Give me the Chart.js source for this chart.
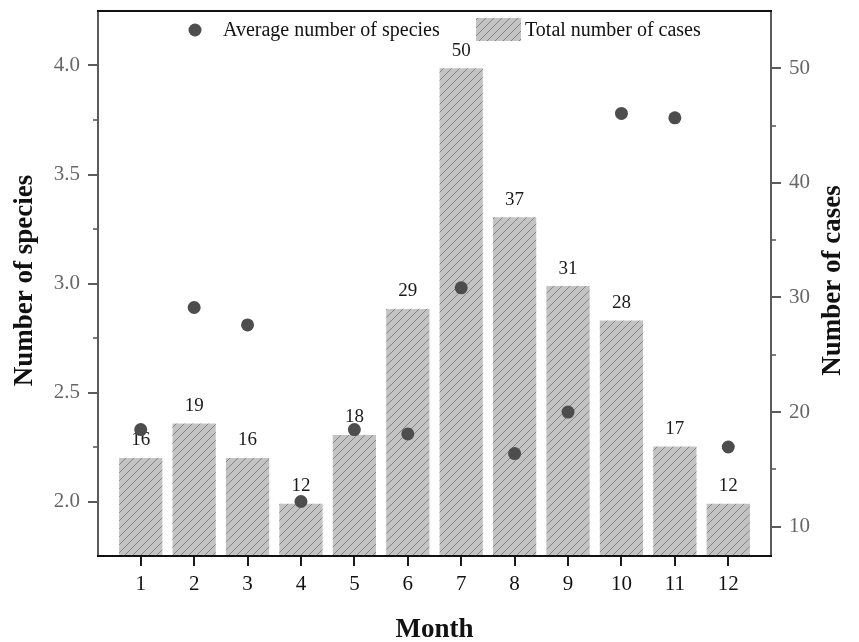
<!DOCTYPE html>
<html lang="en">
<head>
<meta charset="UTF-8">
<title>Species and cases by month</title>
<script src="https://cdn.jsdelivr.net/npm/chart.js"></script>
<style>
  html, body { margin: 0; padding: 0; background: #fff; }
  #wrap { width: 859px; height: 642px; }
</style>
</head>
<body>
<div id="wrap"><canvas id="chart" width="859" height="642"></canvas></div>
<script>
// monthly data
const months = [1, 2, 3, 4, 5, 6, 7, 8, 9, 10, 11, 12];
const avgSpecies = [2.33, 2.89, 2.81, 2.00, 2.33, 2.31, 2.98, 2.22, 2.41, 3.78, 3.76, 2.25];
const totalCases = [16, 19, 16, 12, 18, 29, 50, 37, 31, 28, 17, 12];
const speciesTicks = [2.0, 2.5, 3.0, 3.5, 4.0];
const caseTicks = [10, 20, 30, 40, 50];
const seriesNames = ['Average number of species', 'Total number of cases'];
const axisTitles = { x: 'Month', y: 'Number of species', y1: 'Number of cases' };

const SERIF = '"Liberation Serif", "Times New Roman", serif';
const DOT = '#4d4d4d';
const AXIS_GRAY = '#5c5c5c';

const canvas = document.getElementById('chart');
const ctx = canvas.getContext('2d');

// diagonal hatch fill for the bars
function makeHatch() {
  const c = document.createElement('canvas');
  c.width = 8; c.height = 8;
  const g = c.getContext('2d');
  g.fillStyle = '#c3c3c3';
  g.fillRect(0, 0, 8, 8);
  g.strokeStyle = '#7e7e7e';
  g.lineWidth = 0.9;
  g.beginPath();
  g.moveTo(-1, 9); g.lineTo(9, -1);
  g.moveTo(-1, 1); g.lineTo(1, -1);
  g.moveTo(7, 9); g.lineTo(9, 7);
  g.stroke();
  return ctx.createPattern(c, 'repeat');
}
const hatch = makeHatch();

// fixed box sizes so the plot area lands where it should
function fixBox(size, key) {
  return s => {
    s[key] = size;
    s.paddingTop = 0; s.paddingBottom = 0;
    s.paddingLeft = 0; s.paddingRight = 0;
  };
}

// frame, tick marks (major + minor), value labels, titles and legend
const decorations = {
  id: 'decorations',
  afterDatasetDraw(chart, args) {
    if (args.index !== 1) return;
    const c = chart.ctx;
    c.save();
    c.font = '19px ' + SERIF;
    c.fillStyle = '#1a1a1a';
    c.textAlign = 'center';
    c.textBaseline = 'bottom';
    args.meta.data.forEach((bar, i) => {
      c.fillText(String(totalCases[i]), bar.x, bar.y - 8);
    });
    c.restore();
  },
  afterDatasetsDraw(chart) {
    const c = chart.ctx;
    const a = chart.chartArea;
    const sx = chart.scales.x, sy = chart.scales.y, sy1 = chart.scales.y1;
    c.save();
    c.lineCap = 'butt';

    // y ticks, left
    c.strokeStyle = AXIS_GRAY;
    c.lineWidth = 2;
    sy.ticks.forEach(t => {
      const p = Math.round(sy.getPixelForValue(t.value));
      c.beginPath(); c.moveTo(a.left - 10, p); c.lineTo(a.left, p); c.stroke();
    });
    c.lineWidth = 1.6;
    for (let i = 0; i < sy.ticks.length - 1; i++) {
      const p = Math.round(sy.getPixelForValue((sy.ticks[i].value + sy.ticks[i + 1].value) / 2));
      c.beginPath(); c.moveTo(a.left - 5, p); c.lineTo(a.left, p); c.stroke();
    }
    // y ticks, right
    c.lineWidth = 2;
    sy1.ticks.forEach(t => {
      const p = Math.round(sy1.getPixelForValue(t.value));
      c.beginPath(); c.moveTo(a.right, p); c.lineTo(a.right + 10, p); c.stroke();
    });
    c.lineWidth = 1.6;
    for (let i = 0; i < sy1.ticks.length - 1; i++) {
      const p = Math.round(sy1.getPixelForValue((sy1.ticks[i].value + sy1.ticks[i + 1].value) / 2));
      c.beginPath(); c.moveTo(a.right, p); c.lineTo(a.right + 5, p); c.stroke();
    }
    // x ticks
    c.strokeStyle = '#1a1a1a';
    c.lineWidth = 2;
    sx.ticks.forEach(t => {
      const p = Math.round(sx.getPixelForValue(t.value));
      c.beginPath(); c.moveTo(p, a.bottom); c.lineTo(p, a.bottom + 10); c.stroke();
    });

    // frame
    c.lineWidth = 2;
    c.strokeStyle = AXIS_GRAY;
    c.beginPath(); c.moveTo(a.left, a.top); c.lineTo(a.left, a.bottom); c.stroke();
    c.beginPath(); c.moveTo(a.right, a.top); c.lineTo(a.right, a.bottom); c.stroke();
    c.strokeStyle = '#111';
    c.beginPath(); c.moveTo(a.left - 1, a.top); c.lineTo(a.right + 1, a.top); c.stroke();
    c.beginPath(); c.moveTo(a.left - 1, a.bottom); c.lineTo(a.right + 1, a.bottom); c.stroke();
    c.restore();
  },
  afterDraw(chart) {
    const c = chart.ctx;
    const a = chart.chartArea;
    const midY = (a.top + a.bottom) / 2 - 3;
    c.save();
    c.fillStyle = '#111';
    c.font = 'bold 27px ' + SERIF;
    c.textAlign = 'center';
    c.textBaseline = 'middle';
    c.fillText(axisTitles.x, (a.left + a.right) / 2, 630);

    c.save();
    c.translate(25, midY);
    c.rotate(-Math.PI / 2);
    c.fillText(axisTitles.y, 0, 0);
    c.restore();

    c.save();
    c.translate(833, midY);
    c.rotate(-Math.PI / 2);
    c.fillText(axisTitles.y1, 0, 0);
    c.restore();

    // legend
    c.font = '20px ' + SERIF;
    c.textAlign = 'left';
    c.textBaseline = 'middle';
    c.fillStyle = DOT;
    c.beginPath(); c.arc(195, 30, 6.5, 0, Math.PI * 2); c.fill();
    c.fillStyle = '#111';
    c.fillText(seriesNames[0], 223, 31);
    c.fillStyle = hatch;
    c.fillRect(476, 18, 45, 23);
    c.fillStyle = '#111';
    c.fillText(seriesNames[1], 525, 31);
    c.restore();
  }
};

new Chart(ctx, {
  type: 'bar',
  data: {
    datasets: [{
      type: 'scatter',
      label: seriesNames[0],
      data: months.map((m, i) => ({ x: m, y: avgSpecies[i] })),
      yAxisID: 'y',
      backgroundColor: DOT,
      borderColor: DOT,
      borderWidth: 0,
      pointRadius: 6.5,
      pointHoverRadius: 6.5,
      order: 0
    }, {
      type: 'bar',
      label: seriesNames[1],
      data: months.map((m, i) => ({ x: m, y: totalCases[i] })),
      yAxisID: 'y1',
      backgroundColor: hatch,
      borderWidth: 0,
      categoryPercentage: 1,
      barPercentage: 0.81,
      order: 1
    }]
  },
  options: {
    responsive: false,
    animation: false,
    layout: { padding: { top: 11, left: 0, right: 0, bottom: 0 } },
    plugins: { legend: { display: false }, tooltip: { enabled: false } },
    scales: {
      x: {
        type: 'linear',
        min: 0.2,
        max: 12.8,
        offset: false,
        afterBuildTicks: s => { s.ticks = months.map(v => ({ value: v })); },
        afterFit: fixBox(86, 'height'),
        grid: { display: false, drawTicks: true, tickLength: 10 },
        border: { display: false },
        ticks: {
          autoSkip: false,
          maxRotation: 0,
          padding: 6,
          color: '#111',
          font: { family: SERIF, size: 21 }
        }
      },
      y: {
        position: 'left',
        min: 1.75,
        max: 4.25,
        afterBuildTicks: s => { s.ticks = speciesTicks.map(v => ({ value: v })); },
        afterFit: fixBox(98, 'width'),
        grid: { display: false, drawTicks: true, tickLength: 10 },
        border: { display: false },
        ticks: {
          padding: 8,
          color: '#666',
          font: { family: SERIF, size: 21 },
          callback: v => Number(v).toFixed(1)
        }
      },
      y1: {
        position: 'right',
        min: 7.44,
        max: 55,
        afterBuildTicks: s => { s.ticks = caseTicks.map(v => ({ value: v })); },
        afterFit: fixBox(88, 'width'),
        grid: { display: false, drawTicks: true, tickLength: 10 },
        border: { display: false },
        ticks: {
          padding: 8,
          color: '#666',
          font: { family: SERIF, size: 21 }
        }
      }
    }
  },
  plugins: [decorations]
});
</script>
</body>
</html>
